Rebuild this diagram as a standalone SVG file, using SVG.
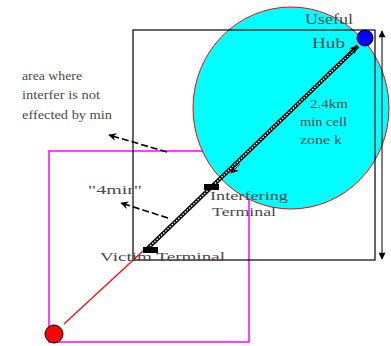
<svg xmlns="http://www.w3.org/2000/svg" width="391" height="346" viewBox="0 0 391 346">
<defs>
<marker id="ah" viewBox="0 0 10 10" refX="9" refY="5" markerWidth="9" markerHeight="8" orient="auto-start-reverse" markerUnits="userSpaceOnUse"><path d="M0,0 L10,5 L0,10 L3,5 z" fill="#000"/></marker>
<marker id="ah2" viewBox="0 0 10 10" refX="9" refY="5" markerWidth="9" markerHeight="7" orient="auto-start-reverse" markerUnits="userSpaceOnUse"><path d="M0,0 L10,5 L0,10 z" fill="#000"/></marker>
</defs>
<style>
.t{font-family:"Liberation Serif","Times New Roman",serif;fill:#4a4a4a;}
.s{font-size:13px;}
.m{font-size:15px;}
</style>
<rect width="391" height="346" fill="#fff"/>
<g id="cell-area">
<rect x="49" y="151" width="200" height="191" fill="none" stroke="#f0f" stroke-width="1.5"/>
</g>
<g id="cell-zone">
<ellipse cx="291" cy="108" rx="98" ry="101" fill="#0ff" stroke="#f00" stroke-width="1"/>
</g>
<g id="region">
<rect x="133" y="30" width="242" height="230" fill="none" stroke="#000" stroke-width="1.2"/>
</g>
<g id="connectors">
<line x1="64" y1="324" x2="210" y2="189" stroke="#f00" stroke-width="1.2"/>
<line x1="148" y1="248" x2="358" y2="46" stroke="#000" stroke-width="4"/>
<line x1="148" y1="248" x2="358" y2="46" stroke="#fff" stroke-width="1.4" stroke-dasharray="1.5,1.5"/>
<line x1="240" y1="164" x2="231" y2="173" stroke="#000" stroke-width="1" marker-end="url(#ah)"/>
<line x1="345" y1="58" x2="357" y2="46" stroke="#000" stroke-width="1" marker-end="url(#ah)"/>
<line x1="382" y1="31" x2="382" y2="259" stroke="#000" stroke-width="1" marker-start="url(#ah2)" marker-end="url(#ah2)"/>
<line x1="167" y1="152" x2="109" y2="135" stroke="#000" stroke-width="1.6" stroke-dasharray="7,3" marker-end="url(#ah)"/>
<line x1="168" y1="218" x2="121" y2="203" stroke="#000" stroke-width="1.6" stroke-dasharray="7,3" marker-end="url(#ah)"/>
</g>
<g id="hub">
<circle cx="365" cy="38" r="8" fill="#00f" stroke="#000" stroke-width="1"/>
<text class="t m" x="305" y="24" textLength="48" lengthAdjust="spacingAndGlyphs">Useful</text>
<text class="t m" x="312" y="48" textLength="33" lengthAdjust="spacingAndGlyphs">Hub</text>
</g>
<g id="mobile">
<circle cx="54" cy="334" r="9" fill="#f00" stroke="#000" stroke-width="1"/>
</g>
<g id="interfering-terminal">
<rect x="204" y="184" width="15" height="6" fill="#000"/>
<text class="t s" x="210" y="200" textLength="78" lengthAdjust="spacingAndGlyphs">Interfering</text>
<text class="t s" x="212" y="216" textLength="64" lengthAdjust="spacingAndGlyphs">Terminal</text>
</g>
<g id="victim-terminal">
<rect x="143" y="247" width="15" height="6" fill="#000"/>
<text class="t s" x="100" y="261" textLength="125" lengthAdjust="spacingAndGlyphs">Victim Terminal</text>
</g>
<g id="labels">
<text class="t s" x="310" y="108" textLength="38" lengthAdjust="spacingAndGlyphs">2.4km</text>
<text class="t s" x="300" y="126" textLength="47" lengthAdjust="spacingAndGlyphs">min cell</text>
<text class="t s" x="300" y="144" textLength="42" lengthAdjust="spacingAndGlyphs">zone k</text>
<text class="t s" x="22" y="80" textLength="60" lengthAdjust="spacingAndGlyphs">area where</text>
<text class="t s" x="22" y="99" textLength="78" lengthAdjust="spacingAndGlyphs">interfer is not</text>
<text class="t s" x="22" y="119" textLength="90" lengthAdjust="spacingAndGlyphs">effected by min</text>
<text class="t s" x="88" y="194" textLength="54" lengthAdjust="spacingAndGlyphs">"4mir"</text>
</g>
</svg>
